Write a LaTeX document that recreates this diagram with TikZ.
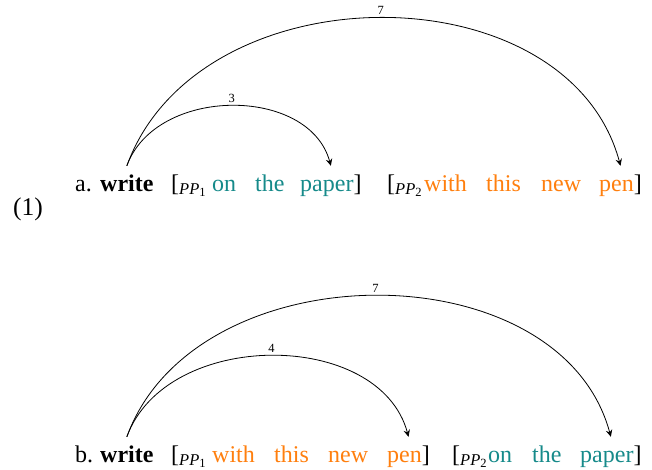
\documentclass[tikz,border=0pt]{standalone}
\usepackage{fontspec}
\setmainfont{Liberation Serif}
\usepackage{tikz}
\usetikzlibrary{arrows.meta,positioning,quotes}
\definecolor{ppteal}{RGB}{22,138,138}
\definecolor{pporange}{RGB}{255,127,14}
% bracket with phrase label
\newcommand{\phr}[1]{[\raisebox{-3pt}{\fontsize{16.5}{16.5}\selectfont\itshape PP\raisebox{-2pt}{\fontsize{12.5}{12.5}\selectfont\upshape #1}}}

\begin{document}
\begin{tikzpicture}[
	x=1pt, y=1pt,
	font=\fontsize{24}{28}\selectfont,
	word/.style = {anchor=base west, inner xsep=0pt, inner ysep=9pt,
		text height=17pt, text depth=5pt},
	wt/.style = {word, text=ppteal},
	wo/.style = {word, text=pporange},
	dep/.style = {-{Stealth[length=7pt,width=6.5pt,inset=2.5pt]}, line width=0.8pt},
	every edge quotes/.style = {auto, inner sep=3pt, font=\fontsize{12.5}{12.5}\selectfont}
	]
	\useasboundingbox (0,0) rectangle (652,470);
	
	\node (ex) [word, font=\fontsize{25.5}{28}\selectfont] at (13,254) {(1)};
	% a.
	\node (a-lab) [word] at (75,278) {a.};
	\node (a-write) [word] at (100,278) {\textbf{write}};
	\node (a-pp1) [word] at (171,278) {\phr{1}};
	\node (a-on) [wt] at (212,278) {on};
	\node (a-the) [wt] at (255,278) {the};
	\node (a-paper) [word] at (300,278) {\textcolor{ppteal}{paper}]};
	\node (a-pp2) [word] at (387,278) {\phr{2}};
	\node (a-with) [wo] at (424,278) {with};
	\node (a-this) [wo] at (486,278) {this};
	\node (a-new) [wo] at (541,278) {new};
	\node (a-pen) [word] at (599,278) {\textcolor{pporange}{pen}]};
	%
	\draw[dep] (a-write.north) to [out=70, in=105, out distance=85pt, in distance=83pt, "3"] (a-paper.north);
	\draw[dep] (a-write.north) to [out=70, in=105, out distance=210pt, in distance=204pt, "7"] (a-pen.north);
	
	% b.
	\node (b-lab) [word] at (75,7) {b.};
	\node (b-write) [word] at (100,7) {\textbf{write}};
	\node (b-pp1) [word] at (171,7) {\phr{1}};
	\node (b-with) [wo] at (212,7) {with};
	\node (b-this) [wo] at (274,7) {this};
	\node (b-new) [wo] at (328,7) {new};
	\node (b-pen) [word] at (387,7) {\textcolor{pporange}{pen}]};
	\node (b-pp2) [word] at (452,7) {\phr{2}};
	\node (b-on) [wt] at (488,7) {on};
	\node (b-the) [wt] at (532,7) {the};
	\node (b-paper) [word] at (580,7) {\textcolor{ppteal}{paper}]};
	%
	\draw[dep] (b-write.north) to [out=70, in=105, out distance=115pt, in distance=112pt, "4"] (b-pen.north);
	\draw[dep] (b-write.north) to [out=70, in=105, out distance=200pt, in distance=195pt, "7"] (b-paper.north);
\end{tikzpicture}
\end{document}
